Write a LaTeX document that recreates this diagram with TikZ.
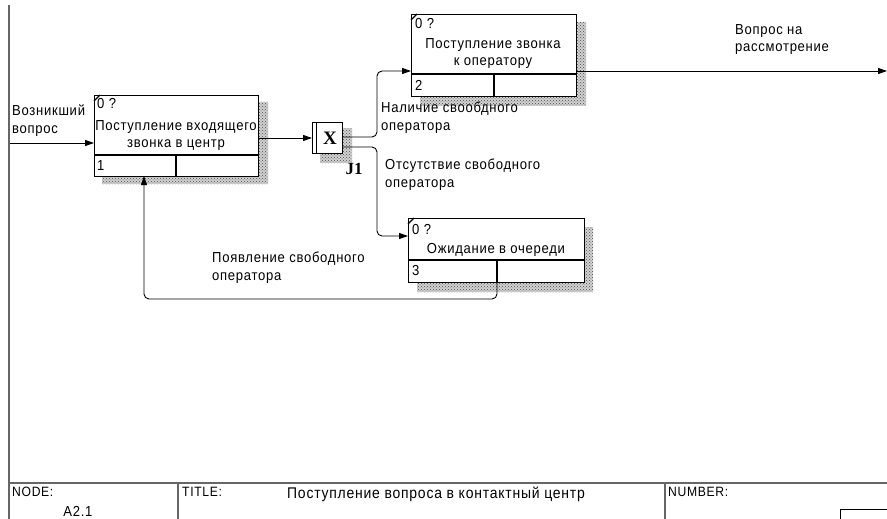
\documentclass[tikz,border=0pt]{standalone}
\usepackage{fontspec}
\setmainfont{Liberation Sans}[LetterSpace=5, FakeStretch=0.9]
\newfontfamily\jfont{Liberation Serif}
\usetikzlibrary{arrows.meta,patterns}

\begin{document}
\begin{tikzpicture}[x=1pt,y=-1pt,
  txt/.style={font=\fontsize{14.5}{17.5}\selectfont, inner sep=0pt, align=left},
  ctxt/.style={font=\fontsize{14.5}{17.5}\selectfont, inner sep=0pt, align=center},
  small/.style={font=\fontsize{13.5}{16}\selectfont, inner sep=0pt, anchor=west},
  actbox/.style={draw, line width=1.3pt, fill=white, anchor=north west, inner sep=0pt, rectangle},
  shadebase/.style={fill=black!18},
  shade/.style={pattern=crosshatch dots, pattern color=black!70},
  flow/.style={line width=0.9pt, rounded corners=5pt, -{Triangle[length=9pt,width=6pt]}},
  frameline/.style={draw=black!60, line width=1.4pt}]

\useasboundingbox (0,0) rectangle (887,519);

% ---------- frame and title block ----------
\draw[frameline] (9,5) -- (9,519);
\draw[frameline] (9,483) -- (887,483);
\draw[frameline] (178,483) -- (178,519);
\draw[frameline] (665,483) -- (665,519);
\draw[line width=1pt] (840,519) -- (840,509) -- (887,509);
\node[small] (nodelbl) at (12,492) {NODE:};
\node[small, font=\fontsize{14.5}{14}\selectfont, anchor=center] (nodeval) at (78,511) {A2.1};
\node[small] (titlelbl) at (182,492) {TITLE:};
\node[small, font=\fontsize{15.5}{14}\selectfont, anchor=center] (titleval) at (436,494) {Поступление вопроса в контактный центр};
\node[small] (numlbl) at (668,492) {NUMBER:};

% ---------- shadows ----------
\def\shadowpath#1#2#3#4#5#6{(#1,#2) -- (#3,#2) -- (#3,#4) -- (#5,#4) -- (#5,#6) -- (#1,#6) -- cycle}
\foreach \s in {shadebase, shade} {
  \fill[\s] \shadowpath{258}{102}{268}{184}{102}{176};
  \fill[\s] \shadowpath{576}{22}{586}{106}{420}{96};
  \fill[\s] \shadowpath{584}{227}{593}{292}{417}{282};
  \fill[\s] \shadowpath{342}{128}{352}{163}{320}{153};
}

% ---------- activity boxes ----------
\node[actbox, minimum width=164pt, minimum height=81pt] (b1) at (94,95) {};
\draw[line width=1.1pt] (94,155) -- (258,155) (176,155) -- (176,176);
\draw[line width=1.1pt] (94,101) -- (100,95);
\node[txt, anchor=west] (b1num) at (97,104) {0 ?};
\node[ctxt] (b1name) at (176,135.5) {Поступление входящего\\звонка в центр};
\node[txt, anchor=west] (b1id) at (97,166) {1};

\node[actbox, minimum width=165pt, minimum height=82pt] (b2) at (411,14) {};
\draw[line width=1.1pt] (411,74) -- (576,74) (494,74) -- (494,96);
\draw[line width=1.1pt] (411,20) -- (417,14);
\node[txt, anchor=west] (b2num) at (415,24) {0 ?};
\node[ctxt] (b2name) at (493,53.5) {Поступление звонка\\к оператору};
\node[txt, anchor=west] (b2id) at (415,85) {2};

\node[actbox, minimum width=176pt, minimum height=64pt] (b3) at (408,218) {};
\draw[line width=1.1pt] (408,260) -- (584,260) (497,260) -- (497,282);
\draw[line width=1.1pt] (408,224) -- (414,218);
\node[txt, anchor=west] (b3num) at (412,230) {0 ?};
\node[ctxt] (b3name) at (496,250) {Ожидание в очереди};
\node[txt, anchor=west] (b3id) at (412,271) {3};

% ---------- junction ----------
\node[actbox, minimum width=30pt, minimum height=31pt] (j1) at (312,122) {};
\draw[line width=1.1pt] (316.5,122) -- (316.5,153);
\node[inner sep=0pt, font=\jfont\bfseries\fontsize{19}{19}\selectfont] (j1x) at (330,138) {X};
\node[inner sep=0pt, font=\jfont\bfseries\fontsize{17}{17}\selectfont] (j1lbl) at (354,169) {J1};

% ---------- connectors ----------
\coordinate (src) at (10,143);
\draw[flow] (src) -- (src -| b1.west);

\coordinate (b1out) at (258,138);
\draw[flow] (b1out) -- (b1out -| j1.west);

\coordinate (jup) at (342,137);
\coordinate (b2in) at (411,71);
\draw[flow] (jup) -| (377,96) -- (377,71) -- (b2in);

\coordinate (jdn) at (342,147);
\coordinate (b3in) at (408,236);
\draw[flow] (jdn) -| (377,200) -- (377,236) -- (b3in);

\coordinate (b2out) at (576,71);
\coordinate (sink) at (887,71);
\draw[flow] (b2out) -- (sink);

\coordinate (b3out) at (497,282);
\coordinate (b1ctl) at (144,176);
\draw[flow] (b3out) -- (497,299) -- (144,299) -- (b1ctl);

% ---------- arrow labels ----------
\node[txt, anchor=north west] (lsrc) at (12,105) {Возникший\\вопрос};
\node[txt, anchor=north west] (lyes) at (381,102) {Наличие свообдного\\оператора};
\node[txt, anchor=north west] (lno) at (385,159) {Отсутствие свободного\\оператора};
\node[txt, anchor=north west] (lfree) at (212,252) {Появление свободного\\оператора};
\node[txt, anchor=north west] (lout) at (735,24) {Вопрос на\\рассмотрение};

\end{tikzpicture}
\end{document}
